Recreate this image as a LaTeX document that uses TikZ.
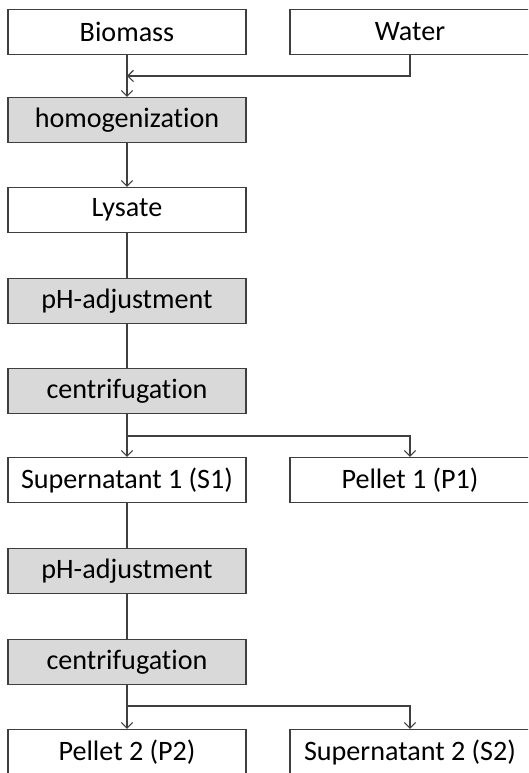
\documentclass[tikz,border=0pt]{standalone}
\usepackage{fontspec}
\setmainfont{Carlito}[Ligatures={NoCommon}]
\usetikzlibrary{arrows.meta}
\definecolor{linegray}{HTML}{3F3F3F}
\definecolor{stepgray}{HTML}{D9D9D9}

\begin{document}
\begin{tikzpicture}[x=0.025cm,y=-0.025cm,>={Straight Barb[length=4pt,width=8pt]},
	every node/.style={font=\fontsize{20}{22}\selectfont},
	matbox/.style={draw=linegray,line width=0.8pt,fill=white,minimum width=5.95cm,minimum height=1.125cm,inner sep=0pt},
	sidebox/.style={matbox,minimum width=6cm},
	stepbox/.style={matbox,fill=stepgray},
	link/.style={draw=linegray,line width=0.8pt}]

\useasboundingbox (0,0) rectangle (528,773);
\clip (0,0) rectangle (528,773);

% Starting materials
\node[matbox]  (bio)  at (127,32) {Biomass};
\node[sidebox] (wat)  at (410,32) {Water};

% First part: homogenization and first centrifugation
\node[stepbox] (hom)  at (127,120) {homogenization};
\node[matbox]  (lys)  at (127,210) {Lysate};
\node[stepbox] (ph1)  at (127,301) {pH-adjustment};
\node[stepbox] (cen1) at (127,391) {centrifugation};
\node[matbox]  (sup1) at (127,480) {Supernatant 1 (S1)};
\node[sidebox] (pel1) at (410,480) {Pellet 1 (P1)};

% Second part
\node[stepbox] (ph2)  at (127,571) {pH-adjustment};
\node[stepbox] (cen2) at (127,662) {centrifugation};
\node[matbox]  (pel2) at (127,752) {Pellet 2 (P2)};
\node[sidebox] (sup2) at (410,752) {Supernatant 2 (S2)};

% Branch points
\coordinate (j0) at (127,76);
\coordinate (j1) at (127,436);
\coordinate (j2) at (127,706);

% Connectors
\draw[link,->] (bio) -- (hom);
\draw[link,->] (wat.south) |- (j0);
\draw[link,->] (hom) -- (lys);
\draw[link] (lys) -- (ph1);
\draw[link] (ph1) -- (cen1);
\draw[link,->] (cen1) -- (sup1);
\draw[link,->] (j1) -| (pel1.north);
\draw[link] (sup1) -- (ph2);
\draw[link] (ph2) -- (cen2);
\draw[link,->] (cen2) -- (pel2);
\draw[link,->] (j2) -| (sup2.north);
\end{tikzpicture}
\end{document}
